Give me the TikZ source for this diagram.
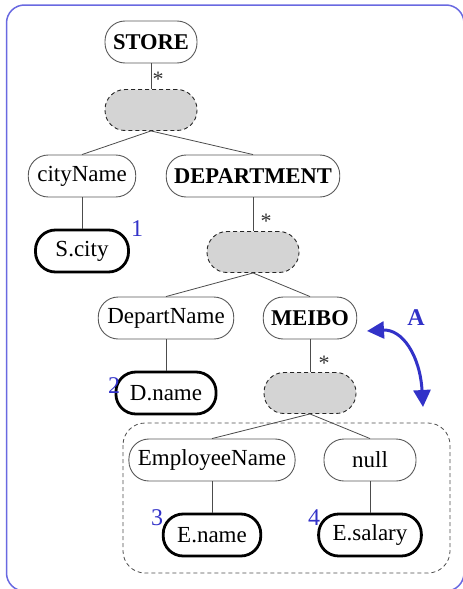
\documentclass[tikz,border=0pt]{standalone}
\usepackage{fontspec}
\setmainfont{Liberation Serif}
\usetikzlibrary{arrows.meta}
\definecolor{markblue}{RGB}{50,50,200}
\definecolor{framecol}{RGB}{105,105,225}

\begin{document}
\begin{tikzpicture}[
    x=1pt, y=-1pt,
    elem/.style={rectangle, rounded corners=20pt, draw=black!65, line width=0.9pt, minimum width=92pt, minimum height=42pt, inner xsep=9pt, font=\fontsize{23}{26}\selectfont},
    tag/.style={elem, font=\fontsize{22.5}{26}\selectfont\bfseries, inner xsep=8pt},
    leaf/.style={elem, draw=black, line width=2.8pt, minimum width=93pt, inner xsep=14pt},
    grp/.style={elem, draw=black!85, dash pattern=on 4pt off 3pt, fill=black!17, minimum height=41pt},
    star/.style={font=\fontsize{22}{22}\selectfont, text=black!80, inner sep=0pt},
    num/.style={font=\fontsize{24}{28}\selectfont, text=markblue, inner sep=0pt},
    link/.style={draw=black!70, line width=0.8pt},
    movearrow/.style={<->, >={Triangle[length=17pt, width=17pt]}, markblue, line width=3pt}
]
\useasboundingbox (0,0) rectangle (463,589);

% outer frame
\draw[framecol, line width=1.5pt, rounded corners=18pt] (6.5,5) rectangle (464,591);

% top level
\node[tag] (store) at (151, 42) {STORE};
\node[grp] (g1) at (151, 110) {};
\node[star] (s1) at (158, 79) {*};

\node[elem] (city) at (82, 176) {cityName};
\node[tag] (dept) at (253, 176) {DEPARTMENT};
\node[leaf] (scity) at (82, 251) {S.city};
\node[num] (n1) at (137, 229) {1};

% department level
\node[grp] (g2) at (253, 252) {};
\node[star] (s2) at (266, 221) {*};
\node[elem] (dname) at (166, 318) {DepartName};
\node[tag] (meibo) at (310, 318) {MEIBO};
\node[leaf] (dnm) at (166, 393) {D.name};
\node[num] (n2) at (114, 386) {2};

% employee level
\node[grp] (g3) at (310, 393) {};
\node[star] (s3) at (324, 363) {*};
\draw[draw=black!70, line width=0.8pt, dash pattern=on 4pt off 3pt, rounded corners=22pt] (123, 423) rectangle (450, 573);
\node[elem] (empname) at (212, 460) {EmployeeName};
\node[elem] (null) at (370, 460) {null};
\node[leaf] (ename) at (212, 535) {E.name};
\node[leaf] (esal) at (370, 535) {E.salary};
\node[num] (n3) at (157, 518) {3};
\node[num] (n4) at (314, 518) {4};

% links
\draw[link] (store) -- (g1);
\draw[link] (g1.south) -- (city.north);
\draw[link] (g1.south) -- (dept.north);
\draw[link] (city) -- (scity);
\draw[link] (dept) -- (g2);
\draw[link] (g2.south) -- (dname.north);
\draw[link] (g2.south) -- (meibo.north);
\draw[link] (dname) -- (dnm);
\draw[link] (meibo) -- (g3);
\draw[link] (g3.south) -- (empname.north);
\draw[link] (g3.south) -- (null.north);
\draw[link] (empname) -- (ename);
\draw[link] (null) -- (esal);

% move arrow
\node[num, font=\fontsize{24}{28}\selectfont\bfseries] (lblA) at (416, 318) {A};
\coordinate (atip) at (367, 331);
\coordinate (btip) at (423, 407);
\draw[movearrow] (atip) .. controls (402, 329) and (420, 355) .. (btip);

\end{tikzpicture}
\end{document}
